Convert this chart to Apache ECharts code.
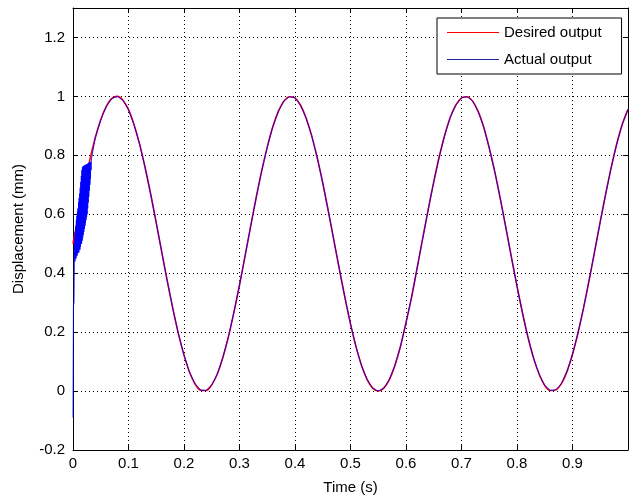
<!DOCTYPE html>
<html>
<head>
<meta charset="utf-8">
<script src="https://cdn.jsdelivr.net/npm/echarts@6/dist/echarts.min.js"></script>
<style>
html,body{margin:0;padding:0;background:#fff;}
#chart{width:631px;height:500px;}
</style>
</head>
<body>
<div id="chart"></div>
<script>
// Time samples (s) for the desired output
var timeS = [0,0.01,0.02,0.03,0.04,0.05,0.06,0.07,0.08,0.09,
  0.10,0.11,0.12,0.13,0.14,0.15,0.16,0.17,0.18,0.19,
  0.20,0.21,0.22,0.23,0.24,0.25,0.26,0.27,0.28,0.29,
  0.30,0.31,0.32,0.33,0.34,0.35,0.36,0.37,0.38,0.39,
  0.40,0.41,0.42,0.43,0.44,0.45,0.46,0.47,0.48,0.49,
  0.50,0.51,0.52,0.53,0.54,0.55,0.56,0.57,0.58,0.59,
  0.60,0.61,0.62,0.63,0.64,0.65,0.66,0.67,0.68,0.69,
  0.70,0.71,0.72,0.73,0.74,0.75,0.76,0.77,0.78,0.79,
  0.80,0.81,0.82,0.83,0.84,0.85,0.86,0.87,0.88,0.89,
  0.90,0.91,0.92,0.93,0.94,0.95,0.96,0.97,0.98,0.99,1.00];
// Desired output (mm)
var desired = [0.500,0.599,0.695,0.782,0.859,0.921,0.966,0.993,1.000,0.987,
  0.955,0.904,0.838,0.758,0.668,0.571,0.471,0.372,0.279,0.194,
  0.122,0.064,0.024,0.003,0.002,0.021,0.058,0.114,0.184,0.268,
  0.360,0.458,0.558,0.656,0.747,0.828,0.897,0.949,0.984,0.999,
  0.995,0.970,0.927,0.867,0.792,0.706,0.611,0.512,0.413,0.317,
  0.228,0.150,0.086,0.039,0.010,0.000,0.010,0.039,0.087,0.151,
  0.232,0.318,0.417,0.517,0.616,0.710,0.796,0.870,0.930,0.971,
  0.995,0.999,0.984,0.949,0.896,0.825,0.744,0.652,0.554,0.454,
  0.356,0.264,0.181,0.111,0.057,0.019,0.002,0.004,0.025,0.066,
  0.125,0.198,0.283,0.377,0.475,0.575,0.671,0.761,0.841,0.907,0.956];
// Actual output start-up transient (time s, value mm), fast oscillation
var transientT = [0,0.0008,0.0018,0.0025,
  0.0030,0.0035,0.0040,0.0045,0.0050,0.0055,0.0060,0.0065,0.0070,0.0075,
  0.0080,0.0085,0.0090,0.0095,0.0100,0.0105,0.0110,0.0115,0.0120,0.0125,
  0.0130,0.0135,0.0140,0.0145,0.0150,0.0155,0.0160,0.0165,0.0170,0.0175,
  0.0180,0.0185,0.0190,0.0195,0.0200,0.0205,0.0210,0.0215,0.0220,0.0225,
  0.0230,0.0235,0.0240,0.0245,0.0250,0.0255,0.0260,0.0265,0.0270,0.0275,
  0.0280,0.0285,0.0290,0.0295,0.0300,0.0305,0.0310,0.0315,0.0320,0.0325,
  0.0330,0.0335];
var transientY = [-0.09,0.29,0.30,0.45,
  0.52,0.44,0.54,0.45,0.56,0.45,0.58,0.46,0.595,0.46,
  0.61,0.47,0.62,0.47,0.64,0.47,0.655,0.48,0.67,0.48,
  0.69,0.49,0.71,0.50,0.73,0.50,0.75,0.51,0.76,0.52,
  0.762,0.53,0.763,0.54,0.765,0.55,0.766,0.56,0.767,0.57,
  0.768,0.58,0.769,0.59,0.77,0.60,0.771,0.62,0.772,0.64,
  0.773,0.66,0.775,0.68,0.776,0.70,0.777,0.72,0.778,0.75,
  0.78,0.79];
// After the transient the actual output follows the desired samples
var actualFollowT = timeS.slice(4);
var actualFollowY = desired.slice(4);

var xTicks = ['0','0.1','0.2','0.3','0.4','0.5','0.6','0.7','0.8','0.9'];

var desiredData = timeS.map(function(t,i){return [t, desired[i]];});
var actualData = transientT.map(function(t,i){return [t, transientY[i]];})
  .concat(actualFollowT.map(function(t,i){return [t, actualFollowY[i]];}));

var FONT = 'Liberation Sans';
var chart = echarts.init(document.getElementById('chart'), null, {renderer:'canvas'});
var grid = {left:73, right:-2, top:8, bottom:50, containLabel:false};
var dotted = {show:true, lineStyle:{color:'#000', width:1, type:[1,3]}};
chart.setOption({
  animation:false,
  backgroundColor:'#fff',
  grid:grid,
  legend:{
    orient:'vertical', left:437, top:18,
    backgroundColor:'#fff', borderColor:'#000', borderWidth:1,
    padding:[7,20,7,10], itemGap:12, itemWidth:52, itemHeight:1,
    textStyle:{fontFamily:FONT, fontSize:15, color:'#000'},
    data:[{name:'Desired output', icon:'rect'},{name:'Actual output', icon:'rect'}]
  },
  xAxis:[{
    type:'value', min:0, max:1, interval:0.1, position:'bottom',
    name:'Time (s)', nameLocation:'middle', nameGap:30,
    nameTextStyle:{fontFamily:FONT, fontSize:15, color:'#000'},
    axisLine:{show:true, onZero:false, lineStyle:{color:'#000', width:1}},
    axisTick:{show:true, inside:true, length:5, lineStyle:{color:'#000'}},
    axisLabel:{fontFamily:FONT, fontSize:15, color:'#000', margin:6,
      formatter:function(v){var k=Math.round(v*10); return k<xTicks.length?xTicks[k]:'';}},
    splitLine:dotted
  },{
    type:'value', min:0, max:1, interval:0.1, position:'top',
    axisLine:{show:true, onZero:false, lineStyle:{color:'#000', width:1}},
    axisTick:{show:true, inside:true, length:5, lineStyle:{color:'#000'}},
    axisLabel:{show:false}, splitLine:{show:false}
  }],
  yAxis:[{
    type:'value', min:-0.2, max:1.3, interval:0.2, position:'left',
    name:'Displacement (mm)', nameLocation:'middle', nameGap:47,
    nameTextStyle:{fontFamily:FONT, fontSize:15, color:'#000'},
    axisLine:{show:true, onZero:false, lineStyle:{color:'#000', width:1}},
    axisTick:{show:true, inside:true, length:5, lineStyle:{color:'#000'}},
    axisLabel:{fontFamily:FONT, fontSize:15, color:'#000', margin:8,
      formatter:function(v){return v>1.25?'':String(Math.round(v*10)/10);}},
    splitLine:dotted
  },{
    type:'value', min:-0.2, max:1.3, interval:0.2, position:'right',
    axisLine:{show:true, onZero:false, lineStyle:{color:'#000', width:1}},
    axisTick:{show:true, inside:true, length:5, lineStyle:{color:'#000'}},
    axisLabel:{show:false}, splitLine:{show:false}
  }],
  series:[{
    name:'Desired output', type:'line', data:desiredData, showSymbol:false, symbol:'none',
    smooth:0.3, lineStyle:{color:'#ff0000', width:1.6}, itemStyle:{color:'#ff0000'}, z:2
  },{
    name:'Actual output', type:'line', data:actualData, showSymbol:false, symbol:'none',
    lineStyle:{color:'#0000ff', width:1, opacity:0.85}, itemStyle:{color:'#2020a0'}, z:3
  }]
});
</script>
</body>
</html>
